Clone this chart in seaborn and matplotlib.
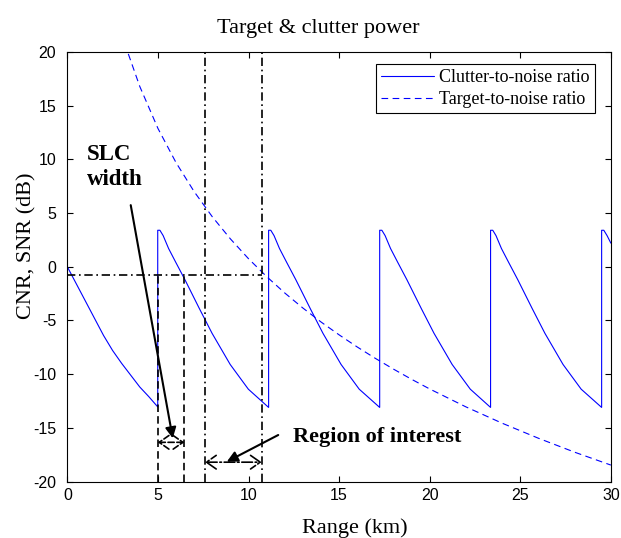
import matplotlib
matplotlib.use("Agg")
import matplotlib.pyplot as plt
import seaborn as sns
import pandas as pd

# ---------------- data ----------------
cnr_label = "Clutter-to-noise ratio"
tnr_label = "Target-to-noise ratio"

cnr_range = [0, 0, 0, 0.5, 1.0, 1.5, 2.0, 2.5, 3.0, 3.5, 4.0, 4.5, 4.99,
             4.99, 5.11, 5.29, 5.59, 5.99, 6.49, 7.29, 7.99, 8.99, 9.99, 11.11,
             11.11, 11.23, 11.41, 11.71, 12.11, 12.61, 13.41, 14.11, 15.11, 16.11, 17.24,
             17.24, 17.36, 17.54, 17.84, 18.24, 18.74, 19.54, 20.24, 21.24, 22.24, 23.36,
             23.36, 23.48, 23.66, 23.96, 24.36, 24.86, 25.66, 26.36, 27.36, 28.36, 29.49,
             29.49, 29.61, 29.79, 30.0]
cnr_db = [-25, 25, 0.0, -1.6, -3.2, -4.8, -6.4, -7.8, -9.0, -10.1, -11.2, -12.1, -13.05,
          3.4, 3.4, 2.9, 1.7, 0.4, -1.2, -3.9, -6.2, -9.1, -11.4, -13.1,
          3.4, 3.4, 2.9, 1.7, 0.4, -1.2, -3.9, -6.2, -9.1, -11.4, -13.1,
          3.4, 3.4, 2.9, 1.7, 0.4, -1.2, -3.9, -6.2, -9.1, -11.4, -13.1,
          3.4, 3.4, 2.9, 1.7, 0.4, -1.2, -3.9, -6.2, -9.1, -11.4, -13.1,
          3.4, 3.4, 2.9, 2.2]

tnr_range = [3.0, 3.33, 4, 5, 6, 7, 8, 9, 10, 11, 12, 13, 14, 15, 16, 17, 18, 19,
             20, 22, 24, 26, 28, 30]
tnr_db = [21.8, 20.0, 16.79, 12.89, 9.70, 7.00, 4.66, 2.60, 0.75, -0.91, -2.44,
          -3.84, -5.14, -6.34, -7.47, -8.53, -9.53, -10.48, -11.38, -13.05,
          -14.57, -15.97, -17.27, -18.47]

threshold_db = -0.8          # horizontal dash-dot level
slc_edges = [4.99, 6.46]     # SLC width (dashed verticals)
roi_edges = [7.60, 10.73]    # region of interest (dash-dot verticals)
slc_arrow_db = -16.35
roi_arrow_db = -18.2

x_ticks = [0, 5, 10, 15, 20, 25, 30]
y_ticks = [-20, -15, -10, -5, 0, 5, 10, 15, 20]

title = "Target & clutter power"
x_label = "Range (km)"
y_label = "CNR, SNR (dB)"

# ---------------- plot ----------------
sns.set_style("ticks")
plt.rcParams["font.family"] = ["Liberation Serif", "DejaVu Serif"]
plt.rcParams["axes.unicode_minus"] = False
plt.rcParams["text.color"] = "black"
plt.rcParams["axes.labelcolor"] = "black"
plt.rcParams["xtick.color"] = "black"
plt.rcParams["ytick.color"] = "black"

df = pd.concat([
    pd.DataFrame({"range": cnr_range, "db": cnr_db, "series": cnr_label}),
    pd.DataFrame({"range": tnr_range, "db": tnr_db, "series": tnr_label}),
], ignore_index=True)

fig = plt.figure(figsize=(6.21, 5.38), dpi=100)
ax = fig.add_axes([0.1084, 0.105, 0.8753, 0.7983])

sns.lineplot(data=df, x="range", y="db", hue="series", style="series",
             palette={cnr_label: "#0000ff", tnr_label: "#0000ff"},
             dashes={cnr_label: "", tnr_label: (6, 4)},
             sort=False, estimator=None, lw=0.8, ax=ax)

blk = "black"
dd = (5, 2.2, 1, 2.2)
ax.plot([0, roi_edges[1]], [threshold_db, threshold_db], color=blk, lw=1.2,
        dashes=dd)
for xv in roi_edges:
    ax.plot([xv, xv], [-20, 20], color=blk, lw=1.2, dashes=dd)
for xv in slc_edges:
    ax.plot([xv, xv], [-20, threshold_db], color=blk, lw=1.2, dashes=(4.5, 2.5))

# double arrows
ax.annotate("", xy=(slc_edges[1], slc_arrow_db), xytext=(slc_edges[0], slc_arrow_db),
            arrowprops=dict(arrowstyle="<->,head_length=0.5,head_width=0.35", lw=1.2,
                            color=blk, ls="--", mutation_scale=14, shrinkA=0, shrinkB=0))
ax.annotate("", xy=(roi_edges[1], roi_arrow_db), xytext=(roi_edges[0], roi_arrow_db),
            arrowprops=dict(arrowstyle="<->,head_length=0.5,head_width=0.35", lw=1.2,
                            color=blk, ls="-.", mutation_scale=14, shrinkA=0, shrinkB=0))

# text annotations with pointer arrows
ax.text(1.07, 11.4, "SLC\nwidth", ha="left", va="top", fontsize=16.5,
        fontweight="bold", linespacing=1.2)
ax.annotate("", xy=(5.82, -15.98), xytext=(3.5, 5.74),
            arrowprops=dict(arrowstyle="-|>", lw=1.5, color=blk,
                            mutation_scale=16, shrinkA=0, shrinkB=0))
ax.text(12.46, -15.85, "Region of interest", ha="left", va="center",
        fontsize=16, fontweight="bold")
ax.annotate("", xy=(8.8, -18.16), xytext=(11.64, -15.67),
            arrowprops=dict(arrowstyle="-|>", lw=1.5, color=blk,
                            mutation_scale=16, shrinkA=0, shrinkB=0))

ax.set_xlim(0, 30)
ax.set_ylim(-20, 20)
ax.set_xticks(x_ticks)
ax.set_yticks(y_ticks)
ax.set_xlabel("")
ax.set_ylabel("")
ax.tick_params(direction="in", top=True, right=True, length=4, width=0.8,
               labelsize=11.5, labelfontfamily="Liberation Sans",
               colors="black")
ax.tick_params(axis="y", pad=8)
ax.tick_params(axis="x", pad=5)
for s in ax.spines.values():
    s.set_visible(True)
    s.set_linewidth(0.8)
    s.set_color("black")

handles, labels = ax.get_legend_handles_labels()
hl = [(h, l) for h, l in zip(handles, labels) if l in (cnr_label, tnr_label)]
leg = ax.legend([h for h, _ in hl], [l for _, l in hl], loc="upper right",
                bbox_to_anchor=(0.9708, 0.9721), borderaxespad=0, frameon=True,
                fancybox=False, edgecolor="black", framealpha=1, fontsize=13,
                handlelength=2.9, handletextpad=0.3, labelspacing=0.25,
                borderpad=0.3)
leg.get_frame().set_linewidth(0.8)

fig.text(318 / 621, 1 - 33.3 / 538, title, ha="center", va="baseline", fontsize=16)
fig.text(355 / 621, 1 - 532.7 / 538, x_label, ha="center", va="baseline", fontsize=16)
fig.text(27 / 621, 1 - 246 / 538, y_label, ha="center", va="center",
         rotation=90, fontsize=16)

fig.savefig("out.png", dpi=100)
